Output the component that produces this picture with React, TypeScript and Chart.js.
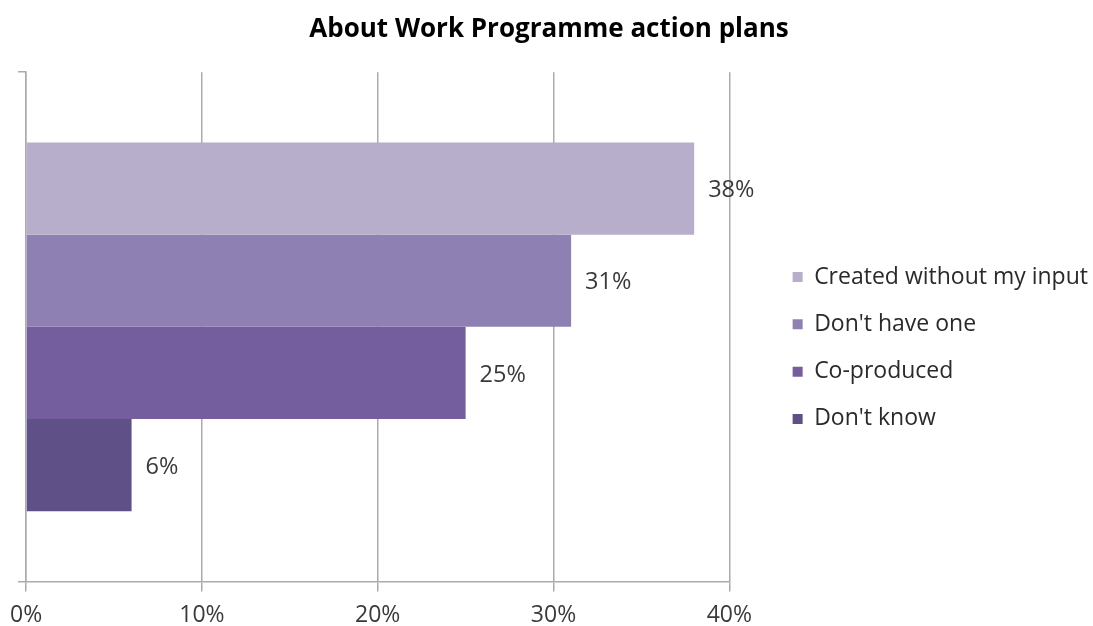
import React, { useEffect, useRef } from "react";
import { Chart, registerables } from "chart.js";

Chart.register(...registerables);

const title = "About Work Programme action plans";
const categories = [""];
const seriesNames = ["Created without my input", "Don't have one", "Co-produced", "Don't know"];
const seriesValues = [38, 31, 25, 6];
const seriesColors = ["#b7aecb", "#8f80b3", "#745e9e", "#605088"];
const xTicks = [0, 10, 20, 30, 40];

const FONT = "'Open Sans', 'Noto Sans', sans-serif";

const valueLabels = {
  id: "valueLabels",
  afterDatasetsDraw(chart: any) {
    const ctx = chart.ctx;
    ctx.save();
    ctx.font = `23.5px ${FONT}`;
    ctx.fillStyle = "#3a3a3a";
    ctx.textAlign = "left";
    ctx.textBaseline = "middle";
    chart.data.datasets.forEach((ds: any, i: number) => {
      const meta = chart.getDatasetMeta(i);
      meta.data.forEach((el: any, j: number) => {
        ctx.fillText(`${ds.data[j]}%`, el.x + 14, el.y + 2);
      });
    });
    ctx.restore();
  },
};

export default function App() {
  const ref = useRef<HTMLCanvasElement>(null);
  useEffect(() => {
    if (!ref.current) return;
    const chart = new Chart(ref.current, {
      type: "bar",
      data: {
        labels: categories,
        datasets: seriesNames.map((name, i) => ({
          label: name,
          data: [seriesValues[i]],
          backgroundColor: seriesColors[i],
          borderWidth: 0,
          categoryPercentage: 0.724,
          barPercentage: 1,
        })),
      },
      options: {
        indexAxis: "y",
        responsive: false,
        animation: false,
        layout: { padding: { left: 0, right: -5, top: 0, bottom: -13 } },
        scales: {
          x: {
            min: xTicks[0],
            max: xTicks[xTicks.length - 1],
            afterBuildTicks: (s: any) => {
              s.ticks = xTicks.map((v) => ({ value: v }));
            },
            grid: { color: "#ababab", lineWidth: 1.5, tickLength: 10 },
            border: { color: "#ababab", width: 1.5 },
            ticks: {
              padding: 10,
              color: "#3a3a3a",
              font: { family: FONT, size: 23 },
              callback: (v: any) => `${v}%`,
              maxRotation: 0,
            },
          },
          y: {
            grid: { display: true, drawOnChartArea: false, tickLength: 8, color: "#ababab", lineWidth: 1.5, offset: true },
            border: { color: "#ababab", width: 1.5 },
            ticks: { display: false },
            afterFit: (s: any) => {
              s.width = 24;
            },
          },
          yPad: {
            type: "linear",
            position: "right",
            display: true,
            grid: { display: false, drawTicks: false },
            border: { display: false },
            ticks: { display: false },
            afterFit: (s: any) => {
              s.width = 39;
            },
          },
        } as any,
        plugins: {
          title: {
            display: true,
            text: title,
            color: "#000",
            font: { family: FONT, size: 26, weight: "bold" },
            padding: { top: 14, bottom: 27 },
          },
          legend: {
            position: "right",
            maxWidth: 420,
            title: {
              display: true,
              text: " ",
              font: { family: FONT, size: 10 },
              padding: { top: 45, bottom: 0 },
            },
            labels: {
              boxWidth: 10,
              boxHeight: 10,
              padding: 24.3,
              color: "#2a2a2a",
              font: { family: FONT, size: 23 },
            },
          },
          tooltip: { enabled: false },
        },
      },
      plugins: [valueLabels],
    });
    return () => chart.destroy();
  }, []);
  return (
    <div style={{ position: "absolute", left: 0, top: 0, width: 1093, height: 626, background: "#fff" }}>
      <canvas ref={ref} width={1093} height={626} />
    </div>
  );
}
